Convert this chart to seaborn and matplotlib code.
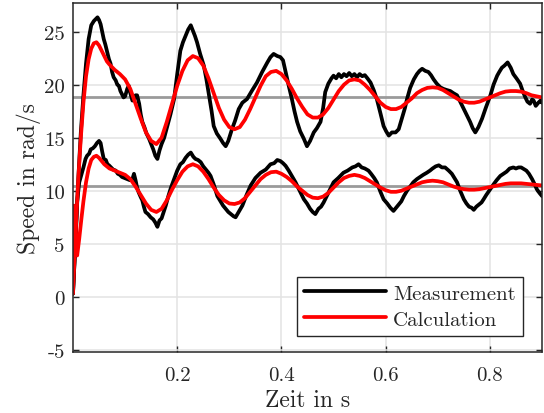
import numpy as np
import pandas as pd
import seaborn as sns
import matplotlib.pyplot as plt

# Messung (schwarz) und Rechnung (rot), zwei Drehzahlstufen
t_meas_hi = [0.000, 0.005, 0.010, 0.015, 0.020, 0.025, 0.030, 0.035, 0.040, 0.044, 0.047, 0.050, 0.053, 0.056,
             0.059, 0.062, 0.066, 0.069, 0.072, 0.075, 0.078, 0.082, 0.085, 0.088, 0.091, 0.094, 0.097, 0.100,
             0.104, 0.107, 0.110, 0.114, 0.117, 0.120, 0.123, 0.127, 0.130, 0.133, 0.137, 0.141, 0.146, 0.150,
             0.154, 0.158, 0.162, 0.166, 0.170, 0.175, 0.181, 0.187, 0.194, 0.200, 0.206, 0.211, 0.216, 0.221,
             0.226, 0.230, 0.234, 0.238, 0.244, 0.251, 0.256, 0.261, 0.266, 0.270, 0.276, 0.283, 0.288, 0.293,
             0.298, 0.305, 0.311, 0.318, 0.325, 0.334, 0.343, 0.353, 0.363, 0.373, 0.379, 0.385, 0.392, 0.398,
             0.403, 0.408, 0.414, 0.420, 0.425, 0.430, 0.436, 0.443, 0.449, 0.455, 0.462, 0.468, 0.475, 0.480,
             0.484, 0.490, 0.496, 0.500, 0.505, 0.510, 0.515, 0.520, 0.525, 0.530, 0.535, 0.540, 0.545, 0.550,
             0.555, 0.560, 0.565, 0.571, 0.577, 0.583, 0.590, 0.596, 0.601, 0.606, 0.612, 0.619, 0.625, 0.631,
             0.637, 0.641, 0.647, 0.654, 0.660, 0.665, 0.670, 0.676, 0.682, 0.687, 0.692, 0.698, 0.705, 0.711,
             0.717, 0.724, 0.730, 0.737, 0.743, 0.750, 0.756, 0.762, 0.767, 0.772, 0.778, 0.785, 0.792, 0.801,
             0.807, 0.814, 0.818, 0.823, 0.828, 0.834, 0.840, 0.845, 0.851, 0.858, 0.863, 0.868, 0.872, 0.877,
             0.881, 0.884, 0.888, 0.893, 0.897, 0.900]
v_meas_hi = [0.3, 5.5, 11.0, 15.5, 19.0, 22.0, 24.3, 25.6, 26.0, 26.2, 26.35, 26.1, 25.7, 25.0,
             24.3, 23.8, 23.0, 22.4, 22.0, 21.2, 20.7, 20.4, 20.0, 19.9, 19.4, 19.1, 18.8, 18.9,
             19.6, 19.9, 19.2, 18.5, 18.6, 19.0, 19.0, 18.2, 17.2, 16.5, 16.0, 15.4, 14.9, 14.4,
             13.9, 13.3, 13.0, 13.8, 14.4, 15.0, 16.1, 17.2, 18.65, 21.0, 23.2, 24.0, 24.6, 25.2,
             25.6, 25.1, 24.6, 24.0, 22.9, 21.8, 20.5, 19.0, 17.5, 16.1, 15.4, 14.9, 14.5, 14.2,
             14.7, 15.8, 16.6, 17.7, 18.3, 18.65, 19.4, 20.2, 21.2, 22.1, 22.6, 22.9, 22.7, 22.6,
             22.3, 21.2, 19.9, 18.65, 17.5, 16.5, 15.6, 14.9, 14.2, 14.7, 15.5, 15.9, 16.5, 17.8,
             19.3, 20.1, 20.6, 20.85, 20.6, 21.0, 20.7, 21.0, 20.8, 21.1, 20.8, 21.0, 20.7, 21.0,
             20.8, 20.9, 20.6, 20.2, 19.5, 18.65, 17.3, 16.1, 15.6, 15.2, 15.5, 15.5, 15.8, 16.8,
             17.8, 18.65, 19.7, 20.5, 21.0, 21.3, 21.5, 21.3, 21.2, 20.9, 20.5, 20.1, 19.75, 19.6,
             19.5, 19.4, 19.2, 19.0, 18.4, 17.7, 17.1, 16.5, 15.9, 15.5, 16.0, 16.8, 17.8, 19.0,
             20.0, 20.85, 21.2, 21.6, 21.8, 22.1, 21.6, 21.0, 20.6, 20.1, 19.4, 18.8, 18.4, 18.2,
             18.6, 18.5, 18.0, 18.3, 18.5, 18.3]

t_meas_lo = [0.000, 0.004, 0.008, 0.012, 0.016, 0.020, 0.024, 0.027, 0.031, 0.034, 0.038, 0.042, 0.046, 0.050,
             0.053, 0.056, 0.059, 0.063, 0.066, 0.069, 0.073, 0.077, 0.082, 0.086, 0.090, 0.094, 0.099, 0.104,
             0.109, 0.114, 0.117, 0.120, 0.123, 0.126, 0.130, 0.133, 0.136, 0.139, 0.144, 0.149, 0.154, 0.158,
             0.162, 0.166, 0.170, 0.174, 0.178, 0.183, 0.188, 0.194, 0.200, 0.206, 0.211, 0.216, 0.221, 0.226,
             0.231, 0.235, 0.240, 0.245, 0.250, 0.255, 0.260, 0.264, 0.270, 0.277, 0.283, 0.288, 0.293, 0.298,
             0.303, 0.308, 0.312, 0.318, 0.325, 0.333, 0.341, 0.350, 0.360, 0.370, 0.379, 0.386, 0.392, 0.398,
             0.403, 0.408, 0.414, 0.420, 0.427, 0.435, 0.443, 0.449, 0.455, 0.460, 0.465, 0.471, 0.476, 0.481,
             0.487, 0.494, 0.500, 0.509, 0.519, 0.527, 0.536, 0.542, 0.548, 0.554, 0.560, 0.567, 0.572, 0.578,
             0.583, 0.590, 0.596, 0.603, 0.609, 0.615, 0.620, 0.625, 0.630, 0.635, 0.641, 0.647, 0.653, 0.660,
             0.666, 0.672, 0.679, 0.685, 0.690, 0.696, 0.702, 0.708, 0.714, 0.721, 0.727, 0.732, 0.737, 0.743,
             0.750, 0.755, 0.760, 0.765, 0.769, 0.774, 0.779, 0.784, 0.788, 0.793, 0.800, 0.807, 0.813, 0.820,
             0.826, 0.832, 0.838, 0.845, 0.850, 0.855, 0.860, 0.865, 0.870, 0.875, 0.881, 0.886, 0.890, 0.895,
             0.900]
v_meas_lo = [0.3, 4.5, 9.0, 10.8, 11.5, 12.2, 13.0, 13.3, 13.5, 13.9, 14.0, 14.2, 14.5, 14.7,
             14.5, 13.7, 13.0, 12.9, 12.5, 12.4, 12.2, 12.0, 11.9, 11.6, 11.5, 11.3, 11.2, 11.1,
             11.0, 11.1, 11.6, 11.0, 10.3, 9.85, 9.4, 9.1, 8.5, 8.0, 7.8, 7.5, 7.3, 7.0,
             6.6, 7.2, 7.4, 8.0, 8.6, 9.5, 10.3, 11.1, 11.9, 12.5, 12.7, 13.1, 13.4, 13.6,
             13.2, 13.0, 12.9, 12.7, 12.3, 12.0, 11.7, 11.4, 10.6, 9.5, 9.0, 8.6, 8.3, 8.0,
             7.8, 7.6, 7.5, 8.0, 8.6, 9.6, 10.5, 11.2, 11.7, 12.0, 12.5, 12.6, 12.9, 12.8,
             12.6, 12.35, 11.9, 11.4, 10.8, 10.0, 9.2, 8.8, 8.3, 8.0, 7.8, 8.3, 8.5, 8.9,
             9.5, 10.2, 10.8, 11.2, 11.7, 11.9, 12.2, 12.3, 12.5, 12.2, 12.1, 11.9, 11.6, 11.2,
             10.8, 9.9, 9.2, 8.8, 8.4, 8.1, 8.4, 8.7, 9.0, 9.5, 10.0, 10.4, 10.8, 11.1,
             11.3, 11.5, 11.7, 11.9, 12.1, 12.3, 12.4, 12.2, 12.2, 11.9, 11.6, 11.2, 10.8, 10.0,
             9.2, 8.8, 8.5, 8.4, 8.2, 8.5, 8.7, 8.9, 9.2, 9.6, 10.1, 10.6, 11.0, 11.4,
             11.6, 11.8, 12.1, 12.2, 12.1, 12.2, 12.2, 12.05, 11.9, 11.6, 11.1, 10.6, 10.15, 9.8,
             9.5]

t_calc_hi = [0.000, 0.005, 0.010, 0.015, 0.020, 0.025, 0.030, 0.035, 0.040, 0.045, 0.050, 0.055, 0.060, 0.065,
             0.070, 0.080, 0.090, 0.100, 0.110, 0.120, 0.130, 0.140, 0.150, 0.160, 0.170, 0.180, 0.190, 0.200,
             0.210, 0.220, 0.230, 0.240, 0.250, 0.260, 0.270, 0.280, 0.290, 0.300, 0.310, 0.320, 0.330, 0.340,
             0.350, 0.360, 0.370, 0.380, 0.390, 0.400, 0.410, 0.420, 0.430, 0.440, 0.450, 0.460, 0.470, 0.480,
             0.490, 0.500, 0.510, 0.520, 0.530, 0.540, 0.550, 0.560, 0.570, 0.580, 0.590, 0.600, 0.610, 0.620,
             0.630, 0.640, 0.650, 0.660, 0.670, 0.680, 0.690, 0.700, 0.710, 0.720, 0.730, 0.740, 0.750, 0.760,
             0.770, 0.780, 0.790, 0.800, 0.810, 0.820, 0.830, 0.840, 0.850, 0.860, 0.870, 0.880, 0.890, 0.900]
v_calc_hi = [0.5, 6.0, 11.0, 15.0, 18.3, 20.8, 22.4, 23.4, 23.9, 24.0, 23.7, 23.2, 22.7, 22.2,
             21.9, 21.4, 21.0, 20.5, 19.6, 18.2, 16.8, 15.5, 14.7, 14.4, 15.0, 16.5, 18.2, 19.9,
             21.3, 22.3, 22.7, 22.5, 21.8, 20.6, 19.2, 17.8, 16.7, 16.0, 15.8, 16.0, 16.7, 17.7,
             18.8, 19.9, 20.8, 21.2, 21.3, 21.0, 20.4, 19.6, 18.7, 17.9, 17.2, 16.9, 16.9, 17.2,
             17.8, 18.6, 19.4, 20.0, 20.4, 20.5, 20.4, 20.0, 19.5, 18.9, 18.3, 17.9, 17.7, 17.7,
             17.9, 18.3, 18.7, 19.2, 19.5, 19.7, 19.75, 19.7, 19.5, 19.2, 18.9, 18.6, 18.4, 18.3,
             18.3, 18.4, 18.6, 18.8, 19.0, 19.2, 19.35, 19.4, 19.4, 19.35, 19.2, 19.0, 18.9, 18.8]

t_calc_lo = [0.000, 0.002, 0.004, 0.008, 0.012, 0.016, 0.020, 0.025, 0.030, 0.035, 0.040, 0.045, 0.050, 0.055,
             0.060, 0.070, 0.080, 0.090, 0.100, 0.110, 0.120, 0.130, 0.140, 0.150, 0.160, 0.170, 0.180, 0.190,
             0.200, 0.210, 0.220, 0.230, 0.240, 0.250, 0.260, 0.270, 0.280, 0.290, 0.300, 0.310, 0.320, 0.330,
             0.340, 0.350, 0.360, 0.370, 0.380, 0.390, 0.400, 0.410, 0.420, 0.430, 0.440, 0.450, 0.460, 0.470,
             0.480, 0.490, 0.500, 0.510, 0.520, 0.530, 0.540, 0.550, 0.560, 0.570, 0.580, 0.590, 0.600, 0.610,
             0.620, 0.630, 0.640, 0.650, 0.660, 0.670, 0.680, 0.690, 0.700, 0.710, 0.720, 0.730, 0.740, 0.750,
             0.760, 0.770, 0.780, 0.790, 0.800, 0.810, 0.820, 0.830, 0.840, 0.850, 0.860, 0.870, 0.880, 0.890,
             0.900]
v_calc_lo = [0.3, 8.6, 7.5, 3.9, 5.5, 7.3, 9.0, 10.8, 12.1, 12.9, 13.2, 13.3, 13.1, 12.8,
             12.5, 12.1, 11.9, 11.7, 11.5, 11.1, 10.4, 9.6, 8.8, 8.2, 8.0, 8.3, 9.1, 10.1,
             11.0, 11.8, 12.3, 12.5, 12.3, 11.8, 11.1, 10.3, 9.6, 9.1, 8.8, 8.75, 8.9, 9.3,
             9.9, 10.5, 11.1, 11.5, 11.75, 11.8, 11.6, 11.3, 10.9, 10.4, 10.0, 9.6, 9.35, 9.3,
             9.45, 9.8, 10.3, 10.8, 11.2, 11.4, 11.5, 11.4, 11.2, 10.9, 10.6, 10.3, 10.05, 9.9,
             9.9, 10.0, 10.2, 10.4, 10.6, 10.8, 10.9, 10.95, 10.9, 10.8, 10.6, 10.4, 10.25, 10.15,
             10.1, 10.1, 10.15, 10.25, 10.35, 10.45, 10.55, 10.65, 10.7, 10.7, 10.7, 10.65, 10.6, 10.55,
             10.5]

# Sollwerte (graue Linien)
ref_levels = [18.85, 10.45]

xticks = [0.2, 0.4, 0.6, 0.8]
yticks = [-5, 0, 5, 10, 15, 20, 25]

sns.set_theme(style="whitegrid")
plt.rcParams['font.family'] = ['cmr10', 'DejaVu Serif']
plt.rcParams['mathtext.fontset'] = 'cm'
plt.rcParams['axes.unicode_minus'] = False
plt.rcParams['axes.formatter.use_mathtext'] = True

fig = plt.figure(figsize=(5.44, 4.14), dpi=100)
ax = fig.add_axes([73 / 544, 1 - 353 / 414, 469 / 544, 349 / 414])

for lv in ref_levels:
    ax.axhline(lv, color='#9a9a9a', lw=2.0, zorder=1)

lw = 2.7
sns.lineplot(x=t_meas_hi, y=v_meas_hi, color='black', lw=lw, ax=ax, label='Measurement', sort=False)
sns.lineplot(x=t_meas_lo, y=v_meas_lo, color='black', lw=lw, ax=ax, sort=False, legend=False)
sns.lineplot(x=t_calc_hi, y=v_calc_hi, color='red', lw=lw, ax=ax, label='Calculation', sort=False)
sns.lineplot(x=t_calc_lo, y=v_calc_lo, color='red', lw=lw, ax=ax, sort=False, legend=False)

ax.set_xlim(0, 0.9)
ax.set_ylim(-5.2, 27.7)
ax.set_xticks(xticks)
ax.set_xticklabels(['0.2', '0.4', '0.6', '0.8'])
ax.set_yticks(yticks)
ax.set_yticklabels([str(v) for v in yticks])

ax.grid(True, color='#e3e3e3', lw=1.1)
for s in ax.spines.values():
    s.set_color('#262626')
    s.set_linewidth(1.1)
ax.tick_params(direction='in', length=4, width=1.0, color='#262626', labelsize=15,
               labelcolor='#262626', top=True, right=True, bottom=True, left=True)
ax.tick_params(axis='x', pad=10)
ax.tick_params(axis='y', pad=6)

ax.set_xlabel('Zeit in s', fontsize=17, color='#262626', labelpad=4)
ax.set_ylabel('Speed in rad/s', fontsize=17, color='#262626', labelpad=2)

leg = ax.legend(loc='lower right', bbox_to_anchor=(0.959, 0.046), borderaxespad=0,
                fontsize=15, frameon=True, fancybox=False, handlelength=3.9, handletextpad=0.35,
                labelspacing=0.35, borderpad=0.35)
leg.get_frame().set_edgecolor('#262626')
leg.get_frame().set_linewidth(1.0)
leg.get_frame().set_alpha(1)
for t in leg.get_texts():
    t.set_color('#262626')

fig.savefig('out.png', dpi=100)
